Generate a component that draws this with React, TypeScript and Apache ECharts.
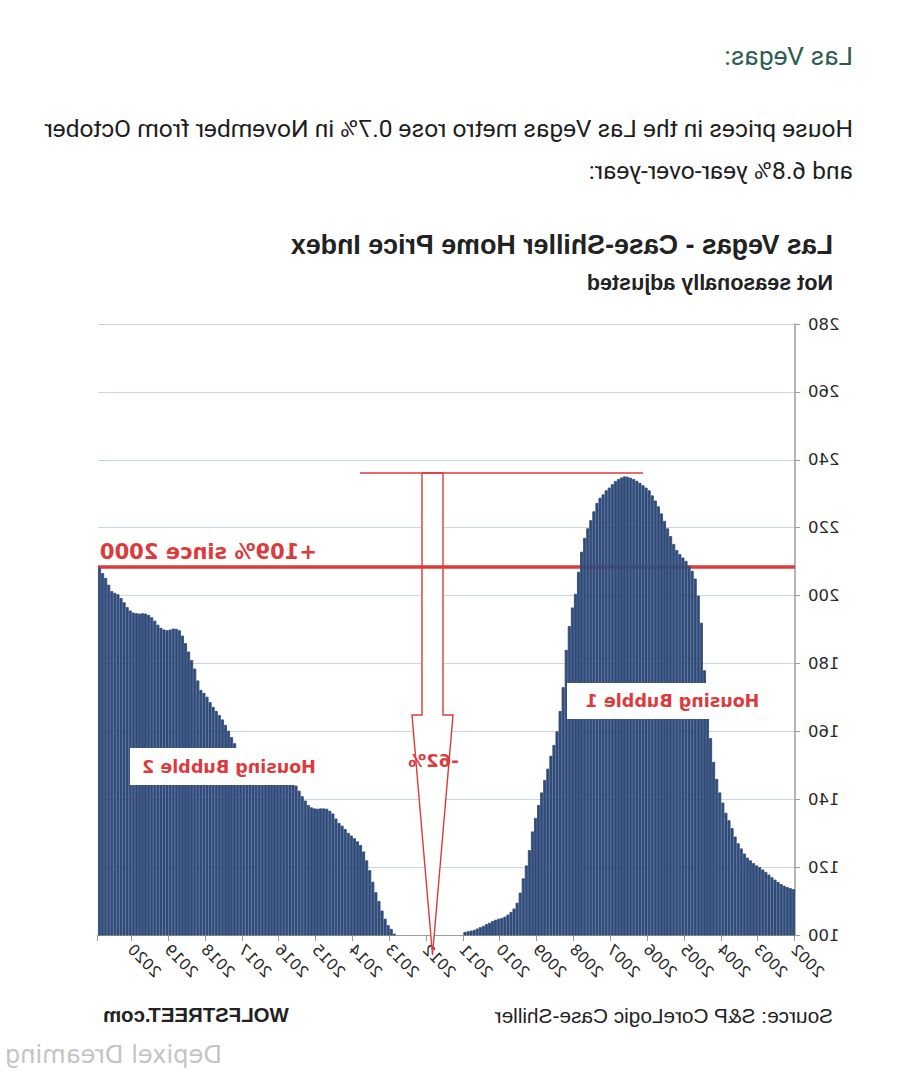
import React, { useEffect, useRef } from "react";
import * as echarts from "echarts";

const YEARS = [2002, 2003, 2004, 2005, 2006, 2007, 2008, 2009, 2010, 2011, 2012, 2013, 2014, 2015, 2016, 2017, 2018, 2019, 2020];

const HPI_2002 = [113.5, 113.8, 114.1, 114.5, 115.0, 115.6, 116.3, 117.0, 117.8, 118.6, 119.3, 120.0];
const HPI_2003 = [120.5, 121.2, 122.0, 122.8, 124.0, 125.5, 127.0, 129.0, 131.5, 133.8, 136.0, 139.0];
const HPI_2004 = [142.0, 146.0, 151.0, 158.0, 166.0, 178.0, 192.0, 200.0, 205.0, 207.3, 208.8, 210.2];
const HPI_2005 = [211.2, 212.2, 213.4, 215.2, 217.5, 219.8, 222.0, 224.2, 226.3, 228.0, 229.5, 231.0];
const HPI_2006 = [231.8, 232.5, 233.2, 233.8, 234.3, 234.7, 235.0, 235.1, 234.8, 234.3, 233.7, 232.8];
const HPI_2007 = [231.8, 231.0, 229.8, 228.8, 227.3, 224.8, 222.2, 219.8, 217.0, 212.9, 207.0, 200.5];
const HPI_2008 = [196.5, 191.0, 184.0, 173.0, 166.0, 160.0, 156.0, 152.8, 149.0, 145.7, 142.0, 138.3];
const HPI_2009 = [134.5, 130.5, 125.0, 120.5, 116.7, 112.5, 109.5, 107.8, 106.8, 106.0, 105.4, 105.0];
const HPI_2010 = [104.8, 104.5, 104.1, 103.6, 103.2, 102.7, 102.3, 101.9, 101.5, 101.3, 101.1, 100.9];
const HPI_2011 = [99.8, 98.6, 97.5, 96.4, 95.2, 94.1, 93.0, 92.0, 91.2, 90.5, 89.9, 89.5];
const HPI_2012 = [89.3, 89.4, 89.8, 90.6, 91.7, 92.9, 94.2, 95.6, 97.1, 98.7, 100.4, 101.8];
const HPI_2013 = [102.9, 104.8, 107.2, 110.0, 112.6, 115.7, 119.1, 122.0, 124.6, 126.5, 127.6, 128.5];
const HPI_2014 = [129.3, 130.1, 131.2, 132.2, 133.0, 134.3, 135.8, 136.6, 137.2, 137.3, 137.3, 137.2];
const HPI_2015 = [137.3, 137.6, 138.3, 139.6, 140.9, 142.5, 144.0, 145.0, 145.8, 146.4, 146.9, 147.3];
const HPI_2016 = [147.6, 148.0, 148.6, 149.3, 150.1, 150.8, 151.4, 151.9, 152.4, 152.9, 153.3, 153.8];
const HPI_2017 = [154.2, 154.8, 156.5, 158.3, 160.2, 161.9, 163.5, 164.8, 166.0, 167.2, 168.6, 170.2];
const HPI_2018 = [171.3, 172.2, 175.0, 178.5, 181.0, 183.5, 186.0, 188.2, 189.8, 190.2, 190.3, 190.0];
const HPI_2019 = [189.8, 190.0, 190.5, 191.4, 192.6, 193.6, 194.3, 194.7, 194.8, 194.7, 194.8, 195.0];
const HPI_2020 = [195.6, 196.6, 198.0, 199.3, 200.4, 200.8, 201.3, 203.2, 205.2, 206.6, 208.2];

const HPI_BY_YEAR = [
  HPI_2002, HPI_2003, HPI_2004, HPI_2005, HPI_2006, HPI_2007, HPI_2008, HPI_2009, HPI_2010, HPI_2011,
  HPI_2012, HPI_2013, HPI_2014, HPI_2015, HPI_2016, HPI_2017, HPI_2018, HPI_2019, HPI_2020,
];

const SINCE_2000_LEVEL = 208.5;

const HEADING = "Las Vegas:";
const PARAGRAPH_1 = "House prices in the Las Vegas metro rose 0.7% in November from October";
const PARAGRAPH_2 = "and 6.8% year-over-year:";
const TITLE = "Las Vegas - Case-Shiller Home Price Index";
const SUBTITLE = "Not seasonally adjusted";
const LINE_LABEL = "+109% since 2000";
const BUBBLE_1 = "Housing Bubble 1";
const BUBBLE_2 = "Housing Bubble 2";
const DROP_LABEL = "-62%";
const SOURCE = "Source: S&P CoreLogic Case-Shiller";
const CREDIT = "WOLFSTREET.com";
const WATERMARK = "Depixel Dreaming";

const RED = "#dc3a3c";

export default function App() {
  const ref = useRef<HTMLDivElement>(null);

  useEffect(() => {
    if (!ref.current) return;
    const chart = echarts.init(ref.current, undefined, { renderer: "svg" });

    const categories: string[] = [];
    const values: number[] = [];
    YEARS.forEach((y, i) => {
      HPI_BY_YEAR[i].forEach((v, m) => {
        categories.push(`${y}-${String(m + 1).padStart(2, "0")}`);
        values.push(v);
      });
    });

    const isJan = (i: number) => i % 12 === 0;

    const txt = (text: string, x: number, y: number, font: string, fill: string, align = "left", z = 30) => ({
      type: "text",
      x,
      y,
      z,
      silent: true,
      style: { text, font, fill, textAlign: align, textVerticalAlign: "middle" },
    });

    chart.setOption({
      animation: false,
      backgroundColor: "#ffffff",
      grid: { left: 110, top: 324, width: 697, height: 611, containLabel: false },
      xAxis: {
        type: "category",
        data: categories,
        boundaryGap: true,
        axisLine: { show: true, lineStyle: { color: "#9c9c9c", width: 1 } },
        axisTick: { show: true, interval: (i: number) => isJan(i), length: 6, lineStyle: { color: "#9c9c9c" } },
        axisLabel: {
          interval: (i: number) => isJan(i),
          formatter: (v: string) => v.slice(0, 4),
          rotate: 45,
          margin: 12,
          color: "#2a2a2a",
          fontFamily: "DejaVu Sans",
          fontSize: 15.5,
        },
        splitLine: { show: false },
      },
      yAxis: {
        type: "value",
        min: 100,
        max: 280,
        interval: 20,
        axisLine: { show: true, lineStyle: { color: "#9c9c9c", width: 1.5 } },
        axisTick: { show: true, length: 5, lineStyle: { color: "#9c9c9c" } },
        axisLabel: { color: "#2a2a2a", fontFamily: "DejaVu Sans", fontSize: 16.5, margin: 13 },
        splitLine: { show: true, lineStyle: { color: "#cbd6e3", width: 1.2 } },
      },
      series: [
        {
          type: "bar",
          data: values,
          barCategoryGap: "0%",
          clip: true,
          z: 5,
          itemStyle: { color: "#2f4a78", borderColor: "#344f7d", borderWidth: 0.9 },
          markLine: {
            silent: true,
            symbol: ["none", "none"],
            data: [{ yAxis: SINCE_2000_LEVEL }],
            lineStyle: { color: RED, width: 3.5, type: "solid" },
            label: {
              show: true,
              position: "insideEndTop",
              formatter: LINE_LABEL,
              color: RED,
              fontFamily: "DejaVu Sans",
              fontWeight: "bold",
              fontSize: 21,
              distance: [2, 4],
            },
          },
        },
      ],
      graphic: [
        txt(HEADING, 52, 55, '26.5px Roboto', "#2d5e52"),
        txt(PARAGRAPH_1, 52, 128, '24.6px Roboto', "#1e1e1e"),
        txt(PARAGRAPH_2, 52, 170, '24.6px Roboto', "#1e1e1e"),
        txt(TITLE, 72, 245, 'bold 26.8px "Liberation Sans"', "#222"),
        txt(SUBTITLE, 72, 283, 'bold 21.5px "Liberation Sans"', "#222"),
        {
          type: "polygon",
          z: 3,
          silent: true,
          shape: { points: [[462, 473], [462, 715], [452, 715], [472.5, 955], [493, 715], [483, 715], [483, 473]] },
          style: { fill: "#ffffff", stroke: RED, lineWidth: 1.4 },
        },
        {
          type: "line",
          z: 3,
          silent: true,
          shape: { x1: 262, y1: 473, x2: 545, y2: 473 },
          style: { stroke: RED, lineWidth: 1.4 },
        },
        txt(DROP_LABEL, 471.5, 760, 'bold 18px "DejaVu Sans"', RED, "center"),
        { type: "rect", z: 20, silent: true, shape: { x: 127, y: 683, width: 211, height: 36 }, style: { fill: "#ffffff" } },
        txt(BUBBLE_1, 232.5, 701, 'bold 17.5px "DejaVu Sans"', RED, "center"),
        { type: "rect", z: 20, silent: true, shape: { x: 570, y: 748, width: 205, height: 37 }, style: { fill: "#ffffff" } },
        txt(BUBBLE_2, 676, 767, 'bold 17.5px "DejaVu Sans"', RED, "center"),
        txt(SOURCE, 72, 1015, '20.8px "Liberation Sans"', "#222"),
        txt(CREDIT, 802, 1015, 'bold 20.4px "Liberation Sans"', "#222", "right"),
        txt(WATERMARK, 683, 1055, '24.2px "DejaVu Sans"', "#c4c4c4"),
      ],
    });

    return () => chart.dispose();
  }, []);

  return (
    <div
      style={{
        position: "absolute",
        left: 0,
        top: 0,
        width: 905,
        height: 1077,
        overflow: "hidden",
        background: "#ffffff",
        transform: "scaleX(-1)",
      }}
    >
      <div ref={ref} style={{ width: 905, height: 1077 }} />
    </div>
  );
}
